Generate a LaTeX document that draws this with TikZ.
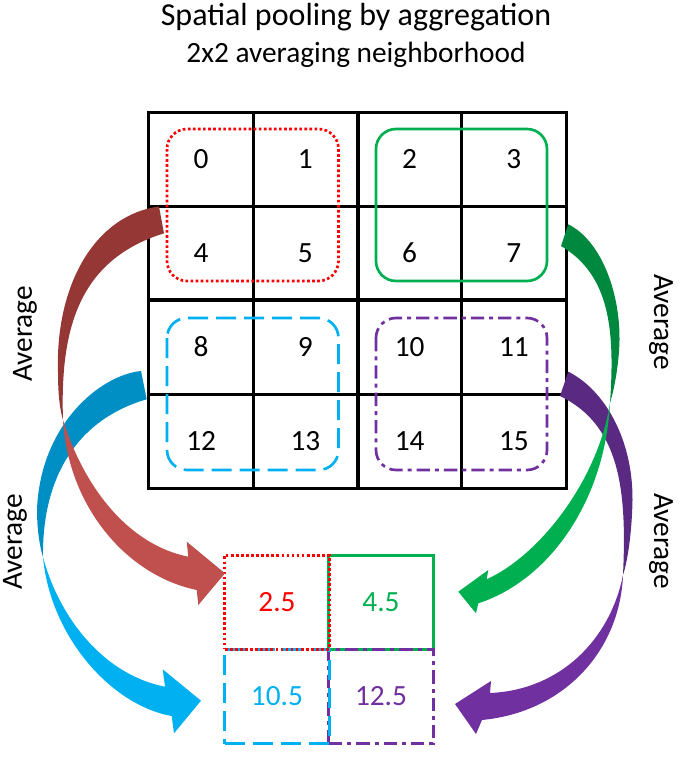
\documentclass[tikz,border=0pt]{standalone}
\usepackage{fontspec}
\setmainfont{Carlito}

\definecolor{poolRed}{HTML}{FF0000}
\definecolor{poolGreen}{HTML}{00B050}
\definecolor{poolBlue}{HTML}{00B0F0}
\definecolor{poolPurple}{HTML}{7030A0}
\definecolor{arrRedDk}{HTML}{953735}
\definecolor{arrRedLt}{HTML}{C0504D}
\definecolor{arrGreenDk}{HTML}{00893E}
\definecolor{arrBlueDk}{HTML}{008FC4}
\definecolor{arrPurpleDk}{HTML}{5A2A83}

\tikzset{
 cell/.style={draw, line width=2.25pt, minimum width=78.19pt, minimum height=70.5pt, inner sep=0pt, outer sep=0pt, font=\fontsize{22}{26}\selectfont},
 pooled/.style={cell, draw=#1, text=#1},
 grp/.style={line width=2pt, rounded corners=15pt},
 dotline/.style={dash pattern=on 2pt off 1.8pt},
 dashline/.style={dash pattern=on 15pt off 6pt},
 dashdotline/.style={dash pattern=on 10pt off 3.75pt on 3pt off 3.75pt},
 avg/.style={font=\fontsize{22}{26}\selectfont},
}

\begin{document}
\begin{tikzpicture}[x=0.75pt, y=-0.75pt]
\useasboundingbox (0,0) rectangle (683,757);
\node[anchor=base, font=\fontsize{24}{28}\selectfont] (title) at (356,25) {Spatial pooling by aggregation};
\node[anchor=base, font=\fontsize{22}{26}\selectfont] (subtitle) at (356,62) {2x2 averaging neighborhood};
\foreach \n in {0,...,15} {
 \pgfmathtruncatemacro{\col}{mod(\n,4)}
 \pgfmathtruncatemacro{\row}{div(\n,4)}
 \node[cell] (c\n) at ({201.125+104.25*\col},{159+94*\row}) {\n};
}
\draw[line width=3pt] (c1.north east) -- (c13.south east);
\draw[line width=3pt] (c4.south west) -- (c7.south east);
\draw[grp, poolRed, dotline] ([shift={(18,17)}]c0.north west) rectangle ([shift={(-19,-19)}]c5.south east);
\draw[grp, poolGreen] ([shift={(18.5,17)}]c2.north west) rectangle ([shift={(-19,-19)}]c7.south east);
\draw[grp, poolBlue, dashline] ([shift={(18,18)}]c8.north west) rectangle ([shift={(-19,-18)}]c13.south east);
\draw[grp, poolPurple, dashdotline] ([shift={(18.5,18)}]c10.north west) rectangle ([shift={(-19,-18)}]c15.south east);

\node[pooled=poolGreen] (p1) at (381,602) {4.5};
\node[pooled=poolPurple, dashdotline] (p3) at (381,696.5) {12.5};
\node[pooled=poolBlue, dashline] (p2) at (277,696.5) {10.5};
\node[pooled=poolRed, dotline] (p0) at (277,602) {2.5};

\fill[arrBlueDk] (141,371) .. controls (100,375) and (40,425) .. (37,510) .. controls (37,530) and (40,548) .. (43,557) .. controls (42,480) and (75,420) .. (146.7,399.3) -- cycle;
\fill[poolBlue] (43,557) .. controls (60,620) and (105,675) .. (165,686.7) -- (162.7,669.3) -- (201,700.7) -- (174,733.3) -- (171.7,716) .. controls (110,705) and (50,635) .. cycle;
\fill[arrRedDk] (159,206.5) .. controls (95,215) and (55,285) .. (58,373) .. controls (58,395) and (60,410) .. (63,420) .. controls (60,330) and (78,260) .. (164,233.3) -- cycle;
\fill[arrRedLt] (63,420) .. controls (85,490) and (130,545) .. (188.3,556.7) -- (186.7,541.7) -- (225,573.3) -- (198.3,605) -- (196.7,590) .. controls (125,575) and (68,505) .. cycle;
\fill[arrPurpleDk] (568.3,371.7) .. controls (605,390) and (633,440) .. (632.5,500) .. controls (632,530) and (628,560) .. (623,575) .. controls (627,490) and (620,425) .. (560,396) -- cycle;
\fill[arrGreenDk] (568.3,224.3) .. controls (600,240) and (620,290) .. (619.5,340) .. controls (619,365) and (614,390) .. (610,403) .. controls (615,330) and (610,275) .. (561,246) -- cycle;
\fill[poolGreen] (610,403) .. controls (598,480) and (540,555) .. (486.7,579.3) -- (488.3,570) -- (458.3,591.7) -- (476,613.3) -- (478.3,603.3) .. controls (550,580) and (605,500) .. cycle;
\fill[poolPurple] (623,575) .. controls (610,640) and (560,690) .. (490,693) -- (491,681) -- (455,704) -- (476,734) -- (482,720) .. controls (565,712) and (620,650) .. cycle;

\node[avg, rotate=90] (avgRed) at (25,334) {Average};
\node[avg, rotate=90] (avgBlue) at (15,542) {Average};
\node[avg, rotate=-90] (avgGreen) at (661,322) {Average};
\node[avg, rotate=-90] (avgPurple) at (661,541) {Average};
\end{tikzpicture}
\end{document}
